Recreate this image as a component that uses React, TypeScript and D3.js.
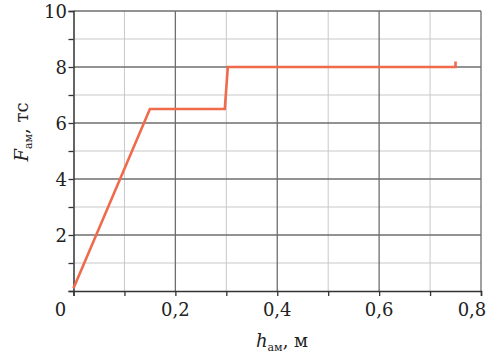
import React, { useEffect, useRef } from "react";
import * as d3 from "d3";

// зависимость усилия от высоты
const hValues = [0, 0.15, 0.297, 0.303, 0.75, 0.75];
const fValues = [0.1, 6.5, 6.5, 8.0, 8.0, 8.2];

const xMajorTicks = [0, 0.2, 0.4, 0.6, 0.8];
const xMinorTicks = [0.1, 0.3, 0.5, 0.7];
const yMajorTicks = [2, 4, 6, 8, 10];
const yMinorTicks = [1, 3, 5, 7, 9];

const App: React.FC = () => {
  const svgRef = useRef<SVGSVGElement>(null);

  useEffect(() => {
    const width = 493;
    const height = 355;
    const svg = d3.select(svgRef.current);
    svg.selectAll("*").remove();

    const x = d3.scaleLinear().domain([0, 0.8]).range([73.5, 481]);
    const y = d3.scaleLinear().domain([0, 10]).range([291, 11]);
    const font = "'DejaVu Serif', 'Liberation Serif', serif";

    svg.append("rect").attr("width", width).attr("height", height).attr("fill", "#fff");

    const grid = svg.append("g");
    grid.selectAll("line.xmin")
      .data(xMinorTicks)
      .join("line")
      .attr("x1", d => x(d)).attr("x2", d => x(d))
      .attr("y1", y(0)).attr("y2", y(10))
      .attr("stroke", "#c8c8c8").attr("stroke-width", 1);
    grid.selectAll("line.ymin")
      .data(yMinorTicks)
      .join("line")
      .attr("y1", d => y(d)).attr("y2", d => y(d))
      .attr("x1", x(0)).attr("x2", x(0.8))
      .attr("stroke", "#c8c8c8").attr("stroke-width", 1);
    grid.selectAll("line.xmaj")
      .data(xMajorTicks.slice(1))
      .join("line")
      .attr("x1", d => x(d)).attr("x2", d => x(d))
      .attr("y1", y(0)).attr("y2", y(10))
      .attr("stroke", "#6e6e6e").attr("stroke-width", 1.3);
    grid.selectAll("line.ymaj")
      .data(yMajorTicks)
      .join("line")
      .attr("y1", d => y(d)).attr("y2", d => y(d))
      .attr("x1", x(0)).attr("x2", x(0.8))
      .attr("stroke", "#6e6e6e").attr("stroke-width", 1.3);

    // оси
    const xAxis = d3.axisBottom(x)
      .tickValues([...xMajorTicks, ...xMinorTicks])
      .tickSize(5)
      .tickFormat(() => "");
    svg.append("g")
      .attr("transform", `translate(0,${y(0)})`)
      .call(xAxis)
      .call(g => g.select(".domain").attr("stroke", "#333").attr("stroke-width", 1.5))
      .call(g => g.selectAll(".tick line").attr("stroke", "#333").attr("stroke-width", 1.3));

    const yAxis = d3.axisLeft(y)
      .tickValues([0, ...yMajorTicks, ...yMinorTicks])
      .tickSize(5)
      .tickFormat(() => "");
    svg.append("g")
      .attr("transform", `translate(${x(0)},0)`)
      .call(yAxis)
      .call(g => g.select(".domain").attr("stroke", "#333").attr("stroke-width", 1.5))
      .call(g => g.selectAll(".tick line").attr("stroke", "#333").attr("stroke-width", 1.3));

    const fmt = (v: number) => String(v).replace(".", ",");

    svg.append("g")
      .selectAll("text")
      .data(xMajorTicks)
      .join("text")
      .attr("x", d => (d === 0 ? x(d) - 13 : d === 0.8 ? x(d) - 9 : x(d)))
      .attr("y", 316)
      .attr("text-anchor", "middle")
      .style("font-family", font)
      .style("font-size", "18px")
      .attr("fill", "#222")
      .text(d => fmt(d));

    svg.append("g")
      .selectAll("text")
      .data(yMajorTicks)
      .join("text")
      .attr("x", 67)
      .attr("y", d => y(d) + 6.5)
      .attr("text-anchor", "end")
      .style("font-family", font)
      .style("font-size", "18px")
      .attr("fill", "#222")
      .text(d => fmt(d));

    // подписи осей
    const xl = svg.append("text")
      .attr("x", 282)
      .attr("y", 347)
      .attr("text-anchor", "middle")
      .style("font-family", font)
      .style("font-size", "18px")
      .attr("fill", "#222");
    xl.append("tspan").style("font-style", "italic").text("h");
    xl.append("tspan").attr("dy", 4).style("font-size", "11px").text("ам");
    xl.append("tspan").attr("dy", -4).text(", м");

    const yl = svg.append("text")
      .attr("transform", `translate(28,${132}) rotate(-90)`)
      .attr("text-anchor", "middle")
      .style("font-family", font)
      .style("font-size", "18px")
      .attr("fill", "#222");
    yl.append("tspan").style("font-style", "italic").text("F");
    yl.append("tspan").attr("dy", 4).style("font-size", "11px").text("ам");
    yl.append("tspan").attr("dy", -4).text(", тс");

    const line = d3.line<number>()
      .x((_, i) => x(hValues[i]))
      .y(d => y(d));

    svg.append("path")
      .datum(fValues)
      .attr("d", line)
      .attr("fill", "none")
      .attr("stroke", "#f06a4c")
      .attr("stroke-width", 2.6)
      .attr("stroke-linejoin", "miter");
  }, []);

  return <svg ref={svgRef} width={493} height={355} style={{ display: "block", position: "absolute", left: 0, top: 0 }} />;
};

export default App;
